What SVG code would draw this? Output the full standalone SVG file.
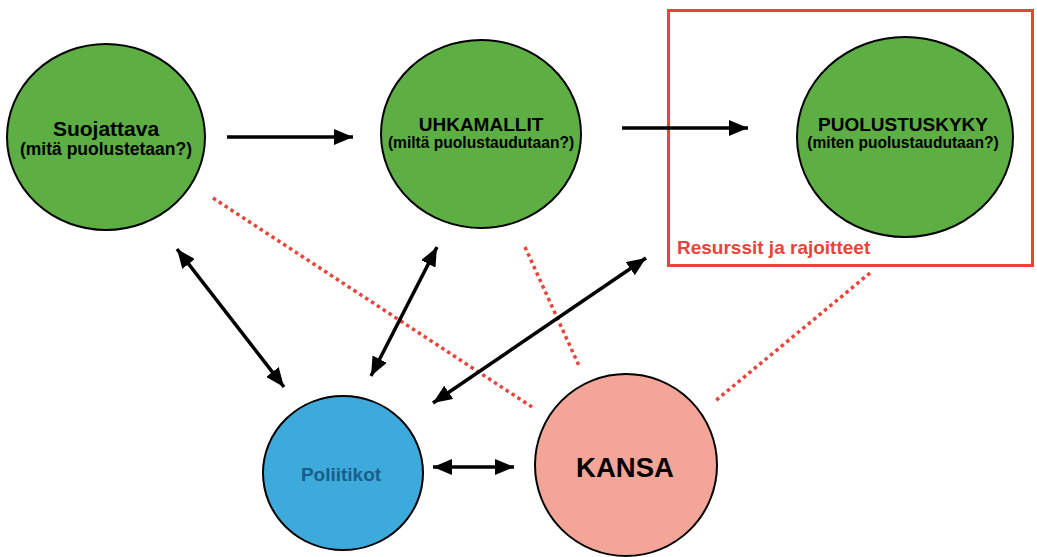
<svg xmlns="http://www.w3.org/2000/svg" width="1037" height="557" viewBox="0 0 1037 557">
<style>
.node{stroke:#000;stroke-width:2}
.green{fill:#5dae43}
.t{font-family:"Liberation Sans",Arial,sans-serif;font-weight:bold;text-anchor:middle;fill:#000}
.arr{stroke:#000;stroke-width:3.5;fill:none}
.dot{stroke:#e8443a;stroke-width:3.5;stroke-dasharray:3.5 3.5;fill:none}
</style>
<defs>
<marker id="ah" markerUnits="userSpaceOnUse" viewBox="0 0 19 16" refX="19" refY="8" markerWidth="19" markerHeight="16" orient="auto-start-reverse">
<path d="M0,0 L19,8 L0,16 Z" fill="#000"/>
</marker>
</defs>
<rect width="1037" height="557" fill="#fff"/>
<g id="dotted">
<line class="dot" x1="213" y1="198" x2="532" y2="407"/>
<line class="dot" x1="525" y1="247" x2="580" y2="368"/>
<line class="dot" x1="870" y1="273" x2="714" y2="402"/>
</g>
<g id="resurssit">
<rect x="668.5" y="10.5" width="364" height="255" fill="none" stroke="#e8443a" stroke-width="3"/>
<text x="677" y="254" font-family="Liberation Sans,Arial,sans-serif" font-weight="bold" font-size="19" fill="#e8443a">Resurssit ja rajoitteet</text>
</g>
<g id="suojattava">
<ellipse class="node green" cx="106" cy="137" rx="99" ry="93"/>
<text class="t" x="106" y="136" font-size="21">Suojattava</text>
<text class="t" x="106" y="155" font-size="17.5">(mitä puolustetaan?)</text>
</g>
<g id="uhkamallit">
<ellipse class="node green" cx="481" cy="134" rx="100" ry="94"/>
<text class="t" x="481" y="131" font-size="19">UHKAMALLIT</text>
<text class="t" x="481" y="148" font-size="15.6">(miltä puolustaudutaan?)</text>
</g>
<g id="puolustuskyky">
<ellipse class="node green" cx="905" cy="137" rx="108" ry="100"/>
<text class="t" x="903" y="131" font-size="19">PUOLUSTUSKYKY</text>
<text class="t" x="903" y="148" font-size="15.6">(miten puolustaudutaan?)</text>
</g>
<g id="poliitikot">
<ellipse class="node" cx="343" cy="473" rx="80" ry="77" fill="#3eaadb"/>
<text class="t" x="341" y="481" font-size="19" style="fill:#175e8c">Poliitikot</text>
</g>
<g id="kansa">
<ellipse class="node" cx="626" cy="465" rx="91" ry="91" fill="#f3a598"/>
<text class="t" x="625" y="477" font-size="27.5">KANSA</text>
</g>
<g id="connectors">
<line class="arr" x1="227" y1="137" x2="353" y2="137" marker-end="url(#ah)"/>
<line class="arr" x1="622" y1="128" x2="748" y2="128" marker-end="url(#ah)"/>
<line class="arr" x1="177" y1="249" x2="284" y2="387" marker-start="url(#ah)" marker-end="url(#ah)"/>
<line class="arr" x1="437" y1="247" x2="371" y2="376" marker-start="url(#ah)" marker-end="url(#ah)"/>
<line class="arr" x1="646" y1="258" x2="433" y2="403" marker-start="url(#ah)" marker-end="url(#ah)"/>
<line class="arr" x1="433" y1="467" x2="514" y2="467" marker-start="url(#ah)" marker-end="url(#ah)"/>
</g>
</svg>
